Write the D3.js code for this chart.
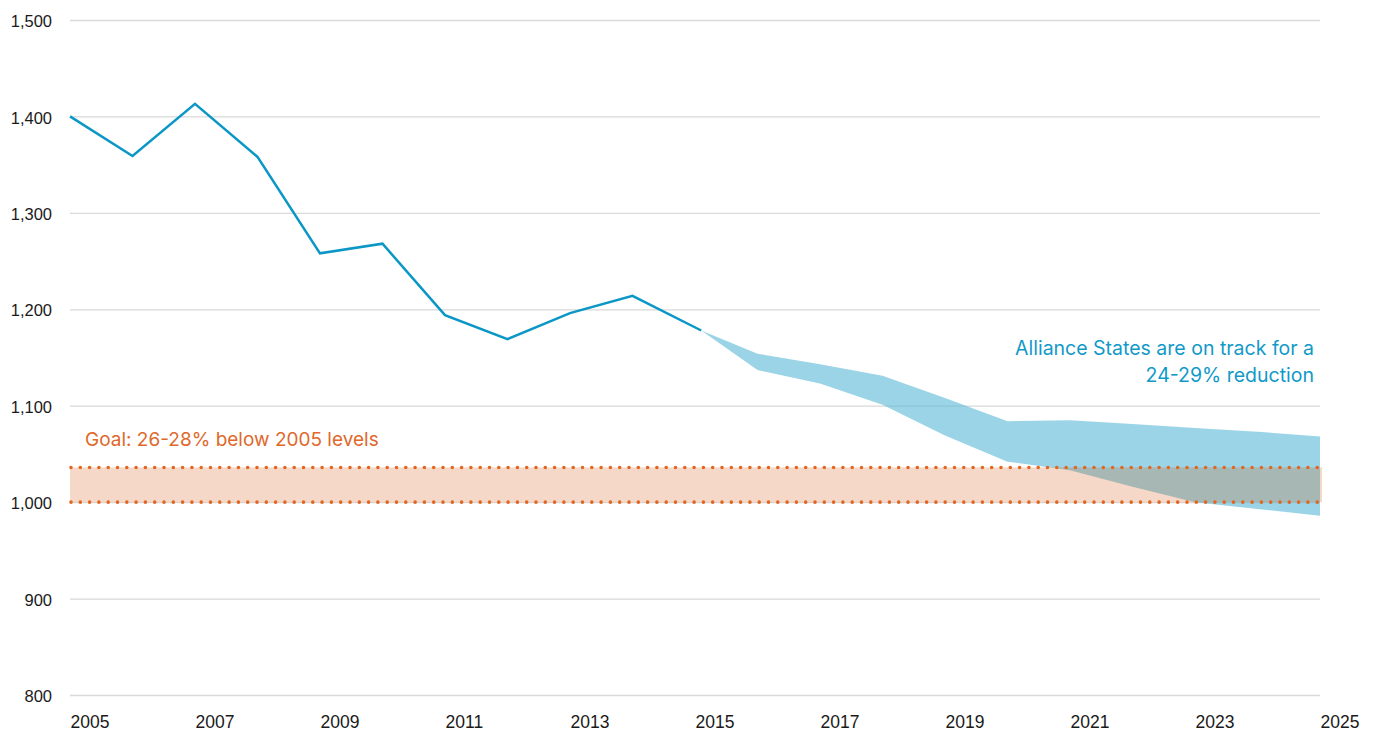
<!DOCTYPE html>
<html>
<head>
<meta charset="utf-8">
<script src="https://cdn.jsdelivr.net/npm/d3@7"></script>
<style>
  html, body { margin: 0; padding: 0; background: #ffffff; }
  svg { display: block; font-family: Inter, "Open Sans", sans-serif; }
</style>
</head>
<body>
<svg id="chart" width="1374" height="733"></svg>
<script>
// Historical emissions (line)
const histYears = [2005, 2006, 2007, 2008, 2009, 2010, 2011, 2012, 2013, 2014, 2015.1];
const histValues = [1400, 1359, 1413, 1358, 1258, 1268, 1194, 1169, 1196, 1214, 1178];

// Projection band
const projYears = [2015.1, 2016, 2017, 2018, 2019, 2020, 2021, 2022, 2023, 2024, 2025];
const projUpper = [1178, 1154, 1143, 1131, 1108, 1084, 1085, 1081, 1077, 1073, 1068];
const projLower = [1178, 1137, 1123, 1101, 1069, 1042, 1033, 1016, 1000, 993, 986];

// Goal band
const goalUpper = 1036;
const goalLower = 1000;
const goalYears = [2005, 2025];

// Axis ticks
const yTicks = [800, 900, 1000, 1100, 1200, 1300, 1400, 1500];
const xTicks = [2005, 2007, 2009, 2011, 2013, 2015, 2017, 2019, 2021, 2023, 2025];

const goalLabel = "Goal: 26-28% below 2005 levels";
const projLabel = ["Alliance States are on track for a", "24-29% reduction"];

const svg = d3.select("#chart");
const x = d3.scaleLinear().domain([2005, 2025]).range([70, 1320]);
const y = d3.scaleLinear().domain([800, 1500]).range([695, 20]);

// Gridlines + y labels
const yAxis = svg.append("g")
  .attr("transform", "translate(70,0)")
  .call(d3.axisLeft(y).tickValues(yTicks).tickSize(-1250).tickPadding(18).tickFormat(d3.format(",")));
yAxis.select(".domain").remove();
yAxis.selectAll(".tick line").attr("stroke", "#d9d9d9").attr("stroke-width", 1.3);
yAxis.selectAll(".tick text").attr("fill", "#1a1a1a").style("font-size", "16.5px").attr("dy", "0.4em");

// X labels
const xAxis = svg.append("g")
  .attr("transform", "translate(0,695)")
  .call(d3.axisBottom(x).tickValues(xTicks).tickSize(0).tickPadding(0).tickFormat(d3.format("d")));
xAxis.select(".domain").remove();
xAxis.selectAll(".tick text").attr("fill", "#1a1a1a").style("font-size", "17.5px")
  .attr("text-anchor", "start").attr("y", 27).attr("dy", "0.35em");

// Projection band
const projData = projYears.map((yr, i) => ({ yr, lo: projLower[i], hi: projUpper[i] }));
svg.append("path")
  .datum(projData)
  .attr("fill", "rgb(95,187,216)")
  .attr("fill-opacity", 0.63)
  .attr("d", d3.area().x(d => x(d.yr)).y0(d => y(d.lo)).y1(d => y(d.hi)));

// Historical line
const histData = histYears.map((yr, i) => ({ yr, v: histValues[i] }));
svg.append("path")
  .datum(histData)
  .attr("fill", "none")
  .attr("stroke", "#0a97c6")
  .attr("stroke-width", 2.5)
  .attr("stroke-linejoin", "miter")
  .attr("d", d3.line().x(d => x(d.yr)).y(d => y(d.v)));

// Goal band
svg.append("rect")
  .attr("x", x(goalYears[0]))
  .attr("width", x(goalYears[1]) - x(goalYears[0]) + 2)
  .attr("y", y(goalUpper))
  .attr("height", y(goalLower) - y(goalUpper))
  .attr("fill", "rgb(212,85,12)")
  .attr("fill-opacity", 0.23);

[goalUpper, goalLower].forEach(v => {
  svg.append("line")
    .attr("x1", x(goalYears[0]) + 1).attr("x2", x(goalYears[1]))
    .attr("y1", y(v)).attr("y2", y(v))
    .attr("stroke", "#e2661f")
    .attr("stroke-width", 3.6)
    .attr("stroke-linecap", "round")
    .attr("stroke-dasharray", "0 9.3");
});

// Annotations
svg.append("text")
  .attr("x", 85).attr("y", 439).attr("dy", "0.35em")
  .attr("fill", "#e0682b")
  .style("font-size", "19px")
  .text(goalLabel);

svg.append("text")
  .attr("text-anchor", "end")
  .attr("fill", "#1199c8")
  .style("font-size", "19.5px")
  .selectAll("tspan")
  .data(projLabel)
  .join("tspan")
  .attr("x", 1314)
  .attr("y", (d, i) => 348 + i * 27)
  .attr("dy", "0.35em")
  .text(d => d);
</script>
</body>
</html>
